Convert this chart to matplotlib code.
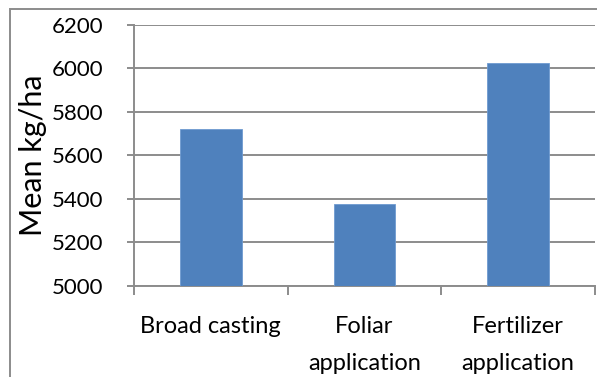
import matplotlib
matplotlib.use("Agg")
import matplotlib.pyplot as plt
from matplotlib.patches import Rectangle

# Mean yield by application method
methods = ["Broad casting", "Foliar\napplication", "Fertilizer\napplication"]
mean_yield = [5722, 5375, 6025]
y_ticks = [5000, 5200, 5400, 5600, 5800, 6000, 6200]

W, H = 597, 377
GRID = "#8c8c8c"
BAR = "#4f81bd"

plt.rcParams["font.family"] = ["Lato", "DejaVu Sans"]

fig = plt.figure(figsize=(W / 100, H / 100), dpi=100)
ax = fig.add_axes([134 / W, 1 - 285.7 / H, (595 - 134) / W, (285.7 - 25) / H])

x = range(len(methods))
ax.bar(x, mean_yield, width=0.4, color=BAR, edgecolor="#6f9bd0", linewidth=0.6, zorder=3)

ax.set_xlim(-0.5, len(methods) - 0.5)
ax.set_ylim(y_ticks[0], y_ticks[-1])
ax.set_yticks(y_ticks)
ax.set_yticklabels([str(v) for v in y_ticks], fontsize=16)
ax.yaxis.grid(True, color=GRID, linewidth=1.4, zorder=0)

ax.set_xticks(list(x))
ax.set_xticklabels(methods, fontsize=17, linespacing=1.95)
ax.tick_params(axis="x", length=0, pad=22)
ax.set_xticks([i - 0.5 for i in range(len(methods) + 1)], minor=True)
ax.tick_params(axis="x", which="minor", length=6.5, color=GRID, width=1.4, direction="out")
ax.tick_params(axis="y", length=5, color=GRID, width=1.4, direction="out", pad=17)

for side in ["top", "right"]:
    ax.spines[side].set_visible(False)
for side in ["left", "bottom"]:
    ax.spines[side].set_color(GRID)
    ax.spines[side].set_linewidth(1.4)

fig.text(33 / W, 1 - 155.5 / H, "Mean kg/ha", rotation=90, fontsize=22,
         ha="center", va="center")

# outer chart frame
fig.patches.append(Rectangle((9.5 / W, -0.1), 1.2, 1 - 9.5 / H + 0.1,
                             transform=fig.transFigure, fill=False,
                             edgecolor="#8c8c8c", linewidth=1.4))

fig.savefig("out.png", dpi=100)
